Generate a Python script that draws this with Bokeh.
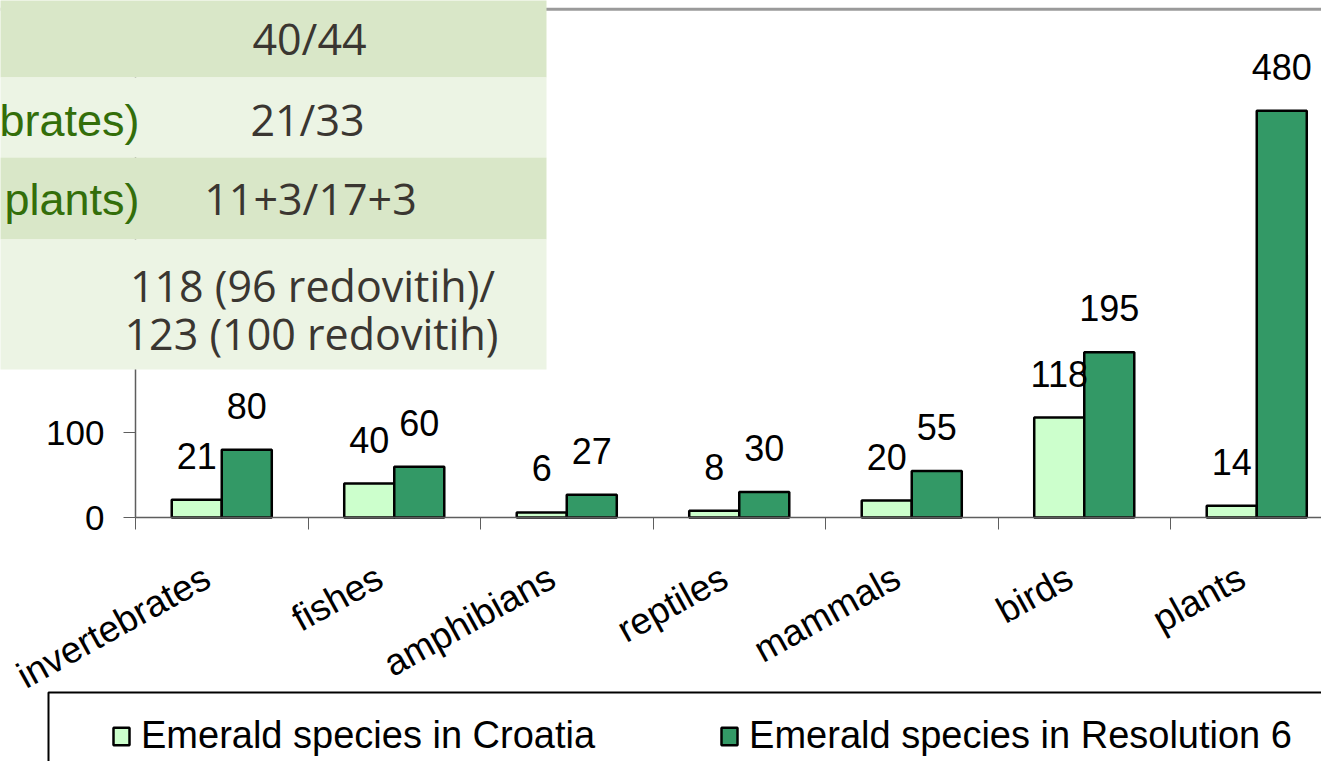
import math
from bokeh.plotting import figure
from bokeh.models import (Range1d, FixedTicker, Legend, LegendItem, BoxAnnotation,
                          Label, Span, ColumnDataSource, LinearAxis)
from bokeh.embed import file_html
from bokeh.resources import INLINE
from bokeh.core.properties import value

# ---------------- data ----------------
categories = ["invertebrates", "fishes", "amphibians", "reptiles", "mammals", "birds", "plants"]
croatia = [21, 40, 6, 8, 20, 118, 14]
resolution6 = [80, 60, 27, 30, 55, 195, 480]
series_names = ["Emerald species in Croatia", "Emerald species in Resolution 6"]
y_ticks = [0, 100, 200, 300, 400, 500, 600]

# overlaid table (partly visible)
table_values = ["40/44", "21/33", "11+3/17+3", "118 (96 redovitih)/", "123 (100 redovitih)"]
table_side_labels = ["brates)", "plants)"]

# ---------------- geometry / style ----------------
FONT = "Liberation Sans"
LIGHT = "#ccffcc"
DARK = "#339966"
GRID = "#5e5e5e"

W, H = 1321, 761
AX_X, AX_Y = 135, 517          # pixel position of the axes origin
CAT_PX = 172.5                  # pixels per category
VAL_PX = 0.8472                 # pixels per unit value

x_range = Range1d(-AX_X / CAT_PX, (W - AX_X) / CAT_PX)
y_range = Range1d(-(H - AX_Y) / VAL_PX, AX_Y / VAL_PX)

p = figure(width=W, height=H, x_range=x_range, y_range=y_range,
           output_backend="svg", toolbar_location=None, x_axis_type=None, y_axis_type=None,
           min_border_left=0, min_border_right=0, min_border_top=0, min_border_bottom=0)
p.outline_line_color = None
p.background_fill_color = "white"
p.border_fill_color = "white"

centers = [i + 0.5 for i in range(len(categories))]
bw = 0.29
off = 0.145
src = ColumnDataSource(dict(
    xl=[c - off for c in centers], xd=[c + off for c in centers],
    croatia=croatia, res=resolution6,
    tc=[str(v) for v in croatia], tr=[str(v) for v in resolution6]))

# grid
p.ygrid.ticker = FixedTicker(ticks=y_ticks)
p.ygrid.grid_line_color = GRID
p.ygrid.grid_line_width = 1.3
p.xgrid.grid_line_color = None
# white cover left of the value axis (grid lines start at the axis)
p.add_layout(BoxAnnotation(left=-20, right=AX_X, top=H + 20, bottom=-20,
                           left_units="screen", right_units="screen",
                           top_units="screen", bottom_units="screen",
                           fill_color="white", fill_alpha=1, line_alpha=0, level="underlay"))

r1 = p.vbar(x="xl", top="croatia", width=bw, source=src, fill_color=LIGHT,
            line_color="black", line_width=2.5)
r2 = p.vbar(x="xd", top="res", width=bw, source=src, fill_color=DARK,
            line_color="black", line_width=2.5)

for xcol, ycol, tcol in (("xl", "croatia", "tc"), ("xd", "res", "tr")):
    p.text(x=xcol, y=ycol, text=tcol, source=src, text_align="center",
           text_baseline="alphabetic", y_offset=-44,
           text_font=value(FONT), text_font_size="36px", text_color="black")

# value axis
yaxis = LinearAxis(fixed_location=0, bounds=(0, 600), ticker=FixedTicker(ticks=y_ticks))
yaxis.major_tick_out = 12
yaxis.major_tick_in = 0
yaxis.minor_tick_line_color = None
yaxis.major_label_standoff = 19
yaxis.major_label_text_font = FONT
yaxis.major_label_text_font_size = "35px"
yaxis.major_label_text_color = "black"
yaxis.axis_line_color = GRID
yaxis.axis_line_width = 1.5
yaxis.major_tick_line_color = GRID
p.add_layout(yaxis, "left")

# category axis: boundary ticks (minor) and labels (major, no tick mark)
label_ticks = [round(c - 0.085, 3) for c in centers]
xaxis = LinearAxis(fixed_location=0, bounds=(0, len(categories)),
                   ticker=FixedTicker(ticks=label_ticks,
                                      minor_ticks=list(range(len(categories) + 1))))
xaxis.major_label_overrides = {t: name for t, name in zip(label_ticks, categories)}
xaxis.major_tick_out = 0
xaxis.major_tick_in = 0
xaxis.minor_tick_out = 12
xaxis.minor_tick_in = 0
xaxis.minor_tick_line_color = GRID
xaxis.axis_line_color = GRID
xaxis.axis_line_width = 1.5
xaxis.major_label_orientation = 29 * math.pi / 180
xaxis.major_label_standoff = 45
xaxis.major_label_text_font = FONT
xaxis.major_label_text_font_size = "37px"
xaxis.major_label_text_color = "black"
p.add_layout(xaxis, "below")

p.add_layout(Span(location=600, dimension="width", line_color="#9a9a9a", line_width=3))

# legend (box drawn separately)
legend = Legend(items=[LegendItem(label=series_names[0], renderers=[r1]),
                       LegendItem(label=series_names[1], renderers=[r2])],
                orientation="horizontal", location=(101, -6), margin=0, padding=10,
                spacing=124, glyph_width=20, glyph_height=22, label_standoff=10,
                label_text_font=FONT, label_text_font_size="38px", label_text_color="black",
                border_line_alpha=0, background_fill_alpha=0)
p.add_layout(legend)
p.add_layout(BoxAnnotation(left=48, right=W + 50, top=H - 692, bottom=-60,
                           left_units="screen", right_units="screen",
                           top_units="screen", bottom_units="screen",
                           fill_alpha=0, line_color="black", line_alpha=1, line_width=2))

# overlaid table (screen units: x from left, y up from the bottom)
rows = [(-5, 77, "#d9e7c8"), (77, 157, "#ecf4e4"), (157, 239, "#d9e7c8"), (239, 369, "#ecf4e4")]
for top, bottom, col in rows:
    p.add_layout(BoxAnnotation(left=-10, right=546, top=H - top, bottom=H - bottom,
                               left_units="screen", right_units="screen",
                               top_units="screen", bottom_units="screen",
                               fill_color=col, fill_alpha=1, line_alpha=0, level="overlay"))

val_pos = [(309, 38), (307, 119), (310, 198), (312, 285), (311, 333)]
for (x, y), t in zip(val_pos, table_values):
    p.add_layout(Label(x=x, y=H - y, x_units="screen", y_units="screen", text=t,
                       text_align="center", text_baseline="middle",
                       text_font="Open Sans", text_font_size="43px",
                       text_color="#3a3631", level="overlay"))
for (x, y), t in zip([(139, 120), (139, 199)], table_side_labels):
    p.add_layout(Label(x=x, y=H - y, x_units="screen", y_units="screen", text=t,
                       text_align="right", text_baseline="middle",
                       text_font=FONT, text_font_size="45px",
                       text_color="#336e0a", level="overlay"))

open("out.html", "w").write(file_html(p, INLINE))
